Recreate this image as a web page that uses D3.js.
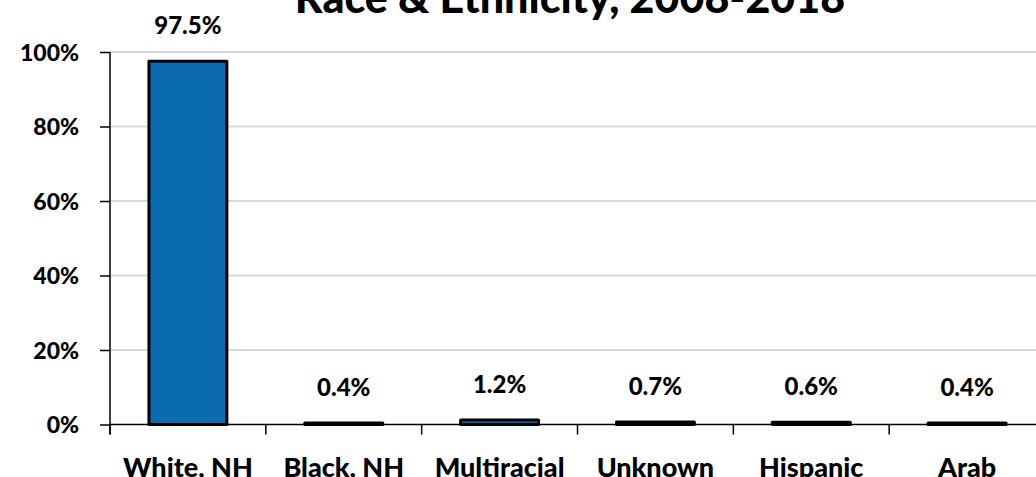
<!DOCTYPE html>
<html>
<head>
<meta charset="utf-8">
<script src="https://cdn.jsdelivr.net/npm/d3@7"></script>
<style>
  body { margin: 0; background: #fff; }
  text { font-family: Lato, "Open Sans", sans-serif; font-weight: 900; fill: #000; }
</style>
</head>
<body>
<svg id="chart"></svg>
<script>
var categories = ["White, NH", "Black, NH", "Multiracial", "Unknown", "Hispanic", "Arab"];
var shares = [97.5, 0.4, 1.2, 0.7, 0.6, 0.4];
var shareLabels = ["97.5%", "0.4%", "1.2%", "0.7%", "0.6%", "0.4%"];
var yTicks = [0, 20, 40, 60, 80, 100];
var title = "Race & Ethnicity, 2008-2018";

var outerWidth = 1036;
var outerHeight = 477;
var margin = { left: 110, top: 52, right: -9, bottom: 52.5 };
var innerWidth  = outerWidth  - margin.left - margin.right;
var innerHeight = outerHeight - margin.top  - margin.bottom;

var svg = d3.select("#chart")
  .attr("width",  outerWidth)
  .attr("height", outerHeight);

svg.append("text")
  .attr("x", 570)
  .attr("y", 13)
  .attr("text-anchor", "middle")
  .style("font-size", "43px")
  .text(title);

var g = svg.append("g")
  .attr("transform", "translate(" + margin.left + "," + margin.top + ")");

var xScale = d3.scaleBand().domain(categories).range([0, innerWidth]).paddingInner(0).paddingOuter(0);
var yScale = d3.scaleLinear().domain([0, 100]).range([innerHeight, 0]);

// gridlines
g.selectAll(".grid").data(yTicks.slice(1)).enter().append("line")
  .attr("class", "grid")
  .attr("x1", 0).attr("x2", innerWidth)
  .attr("y1", function (d){ return yScale(d); })
  .attr("y2", function (d){ return yScale(d); })
  .attr("stroke", "#d9d9d9")
  .attr("stroke-width", 2);

// y axis
var yAxisG = g.append("g").attr("class", "yaxis")
  .call(d3.axisLeft(yScale).tickValues(yTicks).tickSize(10).tickPadding(21)
    .tickFormat(function (d){ return d + "%"; }));
yAxisG.select(".domain").attr("stroke", "#000").attr("stroke-width", 1.5).attr("d", "M0," + (innerHeight + 10) + "V0");
yAxisG.selectAll(".tick line").attr("stroke", "#000").attr("stroke-width", 1.5);
yAxisG.selectAll("text").style("font-size", "23px").attr("dy", "0.36em");

// x axis (ticks at category boundaries)
var xAxisG = g.append("g").attr("class", "xaxis")
  .attr("transform", "translate(0," + innerHeight + ")");
xAxisG.append("line")
  .attr("x1", 0).attr("x2", innerWidth)
  .attr("stroke", "#000").attr("stroke-width", 1.5);
xAxisG.selectAll(".xtick").data(categories).enter().append("line")
  .attr("class", "xtick")
  .attr("x1", function (d){ return xScale(d); })
  .attr("x2", function (d){ return xScale(d); })
  .attr("y1", 0).attr("y2", 10)
  .attr("stroke", "#000").attr("stroke-width", 1.5);
xAxisG.selectAll(".xlabel").data(categories).enter().append("text")
  .attr("class", "xlabel")
  .attr("x", function (d){ return xScale(d) + xScale.bandwidth() / 2; })
  .attr("y", 52.5)
  .attr("text-anchor", "middle")
  .style("font-size", "27px")
  .text(function (d){ return d; });

// bars
var barW = xScale.bandwidth() * 0.5;
g.selectAll(".bar").data(shares).enter().append("rect")
  .attr("class", "bar")
  .attr("x", function (d, i){ return xScale(categories[i]) + (xScale.bandwidth() - barW) / 2; })
  .attr("width", barW)
  .attr("y", function (d){ return yScale(d); })
  .attr("height", function (d){ return innerHeight - yScale(d); })
  .attr("fill", "#0a6caf")
  .attr("stroke", "#000")
  .attr("stroke-width", 3)
  .attr("stroke-linejoin", "round");

// value labels
g.selectAll(".vlabel").data(shares).enter().append("text")
  .attr("class", "vlabel")
  .attr("x", function (d, i){ return xScale(categories[i]) + xScale.bandwidth() / 2; })
  .attr("y", function (d){ return yScale(d) - 27; })
  .attr("text-anchor", "middle")
  .style("font-size", "24px")
  .text(function (d, i){ return shareLabels[i]; });
</script>
</body>
</html>
